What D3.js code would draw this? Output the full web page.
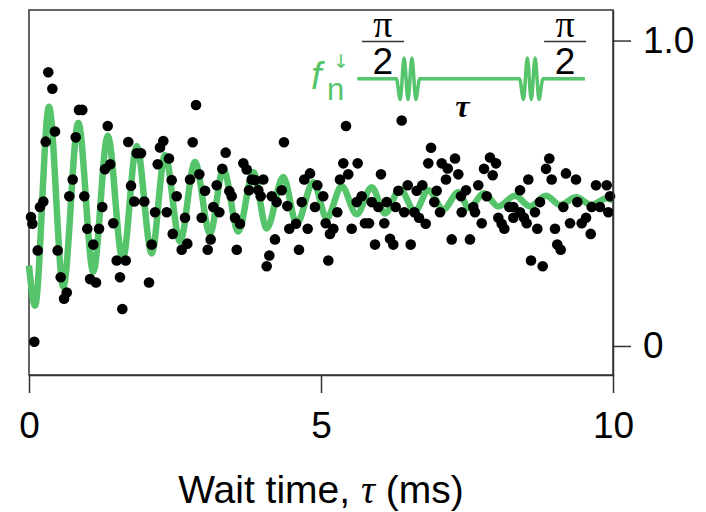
<!doctype html>
<html lang='en'>
<head>
<meta charset="utf-8">
<script src="https://d3js.org/d3.v7.min.js"></script>
<title>Ramsey fringe vs wait time</title>
<style>
  body { margin: 0; background: #fff; }
  svg { display: block; font-family: "Liberation Sans", Arial, sans-serif; }
  .axis path, .axis line { stroke: #333; stroke-width: 1.5; }
  .axis text { font-size: 37px; fill: #000; font-family: "Liberation Sans", Arial, sans-serif; }
  .frame { fill: none; stroke: #333; stroke-width: 1.5; }
  .dot { fill: #000; }
  .fit { fill: none; stroke: #55c46a; stroke-width: 6.5; stroke-linejoin: round; }
  .pulse { fill: none; stroke: #55c46a; stroke-width: 3.5; }
</style>
</head>
<body>
<div id='chart'></div>
<script>
// measured points: wait time (ms) and spin-down fraction
var waitTimes = [
  0.33, 0.40, 0.856, 0.913, 0.445, 0.286, 0.80, 1.348, 1.70, 1.844, 1.918, 2.30, 2.243, 2.397, 2.204, 1.301, 1.392,
  0.748, 0.69, 0.947, 1.747, 1.803, 1.974, 2.443, 2.529, 0.245, 0.188, 0.034, 0.057, 1.255, 2.158, 2.358, 1.443,
  0.998, 1.199, 1.101, 0.149, 0.491, 2.101, 2.461, 1.502, 1.656, 0.543, 1.045, 1.147, 1.558, 2.055, 0.646, 0.60,
  1.598, 0.091,
  2.860, 2.803, 4.366, 3.368, 3.670, 3.728, 3.310, 2.916, 2.757, 3.214, 3.014, 3.430, 3.471, 3.813, 3.870, 4.012,
  3.767, 3.926, 3.967, 4.156, 4.327, 4.241, 4.423, 4.670, 4.714, 4.812, 4.937, 4.897, 3.156, 3.259, 2.671, 2.957,
  3.527, 3.613, 3.111, 2.711, 2.615, 3.060, 3.557, 4.457, 4.572, 4.772, 4.212, 4.623, 4.115, 4.070,
  5.428, 6.382, 6.884, 5.382, 5.628, 5.467, 5.325, 6.027, 6.837, 7.067, 7.170, 7.295, 7.351, 7.140, 5.039, 6.485,
  6.735, 6.324, 6.639, 6.981, 5.697, 5.611, 5.868, 5.981, 6.125, 6.279, 6.940, 7.397, 6.426, 6.598, 5.279, 6.678,
  6.793, 7.038, 7.409, 5.080, 5.211, 5.154, 5.526, 5.753, 5.822, 6.084, 5.925, 6.182, 6.238, 6.536, 7.238, 5.125,
  7.894, 7.997, 8.909, 7.791, 7.940, 8.853, 9.195, 9.366, 8.550, 8.950, 7.693, 9.709, 9.892, 7.483, 8.408, 7.837,
  8.750, 9.389, 9.949, 7.608, 7.637, 8.224, 8.293, 8.408, 8.476, 8.664, 9.149, 9.635, 9.777, 9.920, 8.036, 8.094,
  8.139, 8.293, 7.752, 8.522, 8.704, 9.007, 9.264, 9.464, 9.538, 9.618, 7.551, 9.046, 9.104, 8.596, 8.796
];
var spinDown = [
  0.896, 0.842, 0.773, 0.773, 0.702, 0.669, 0.683, 0.720, 0.668, 0.631, 0.631, 0.671, 0.650, 0.614, 0.595, 0.579, 0.595,
  0.545, 0.490, 0.490, 0.525, 0.473, 0.473, 0.543, 0.490, 0.473, 0.455, 0.422, 0.400, 0.455, 0.438, 0.438, 0.402,
  0.384, 0.384, 0.332, 0.313, 0.313, 0.332, 0.367, 0.280, 0.280, 0.225, 0.219, 0.208, 0.225, 0.208, 0.175, 0.155,
  0.121, 0.014,
  0.789, 0.667, 0.667, 0.633, 0.598, 0.578, 0.580, 0.562, 0.545, 0.526, 0.508, 0.507, 0.490, 0.545, 0.543, 0.545,
  0.510, 0.510, 0.490, 0.490, 0.510, 0.471, 0.458, 0.471, 0.545, 0.565, 0.526, 0.455, 0.455, 0.438, 0.420, 0.420,
  0.420, 0.400, 0.349, 0.335, 0.315, 0.315, 0.315, 0.384, 0.400, 0.384, 0.349, 0.315, 0.296, 0.261,
  0.720, 0.738, 0.649, 0.598, 0.598, 0.562, 0.545, 0.562, 0.598, 0.598, 0.581, 0.614, 0.562, 0.545, 0.490, 0.526,
  0.526, 0.508, 0.508, 0.508, 0.490, 0.471, 0.471, 0.455, 0.471, 0.455, 0.471, 0.490, 0.438, 0.438, 0.438, 0.420,
  0.400, 0.438, 0.438, 0.402, 0.384, 0.367, 0.384, 0.402, 0.402, 0.402, 0.332, 0.351, 0.332, 0.332, 0.349, 0.280,
  0.617, 0.598, 0.614, 0.580, 0.559, 0.580, 0.565, 0.545, 0.545, 0.545, 0.526, 0.526, 0.526, 0.510, 0.510, 0.490,
  0.471, 0.471, 0.490, 0.455, 0.438, 0.455, 0.455, 0.438, 0.420, 0.438, 0.455, 0.455, 0.455, 0.438, 0.420, 0.400,
  0.384, 0.420, 0.402, 0.402, 0.384, 0.384, 0.402, 0.402, 0.420, 0.367, 0.349, 0.332, 0.315, 0.280, 0.261
];

// fitted curve, read at its turning points
var fitTimes = [
  0, 0.103, 0.342, 0.587, 0.844, 1.101, 1.348, 1.604, 1.844, 2.101, 2.329, 2.586, 2.842, 3.099, 3.327, 3.584,
  3.841, 4.070, 4.354, 4.584, 4.868, 5.098, 5.354, 5.611, 5.868, 6.096, 6.353, 6.610, 6.837, 7.094, 7.351,
  7.534, 7.791, 8.036, 8.322, 8.579, 8.853, 9.092, 9.366, 9.635, 9.892, 10
];
var fitValues = [
  0.263, 0.132, 0.783, 0.194, 0.730, 0.243, 0.688, 0.283, 0.655, 0.303, 0.625, 0.342, 0.602, 0.368, 0.579, 0.375,
  0.569, 0.385, 0.553, 0.401, 0.536, 0.418, 0.523, 0.431, 0.520, 0.434, 0.513, 0.441, 0.510, 0.447, 0.503,
  0.451, 0.500, 0.457, 0.492, 0.457, 0.492, 0.462, 0.487, 0.462, 0.484, 0.477
];

var xTicks = [0, 5, 10];
var yTicks = [0, 1];
var yTickLabels = ['0', '1.0'];

var width = 706, height = 512;
var plotLeft = 29, plotRight = 613, plotTop = 10, plotBottom = 375;

var svg = d3.select('#chart').append('svg')
  .attr('width', width)
  .attr('height', height);

var xScale = d3.scaleLinear().domain([0, 10]).range([plotLeft, plotRight]);
var yScale = d3.scaleLinear().domain([-0.095, 1.1]).range([plotBottom, plotTop]);

svg.append('rect')
  .attr('class', 'frame')
  .attr('x', plotLeft).attr('y', plotTop)
  .attr('width', plotRight - plotLeft).attr('height', plotBottom - plotTop);

// fit line
var fitData = fitTimes.map(function (t, i) { return [t, fitValues[i]]; });
var line = d3.line()
  .x(function (d) { return xScale(d[0]); })
  .y(function (d) { return yScale(d[1]); })
  .curve(d3.curveMonotoneX);

svg.append('path')
  .datum(fitData)
  .attr('class', 'fit')
  .attr('d', line);

// data points
var points = waitTimes.map(function (t, i) { return [t, spinDown[i]]; });
svg.selectAll('circle.dot')
  .data(points)
  .enter()
  .append('circle')
  .attr('class', 'dot')
  .attr('cx', function (d) { return xScale(d[0]); })
  .attr('cy', function (d) { return yScale(d[1]); })
  .attr('r', 5.3);

// axes
svg.append('g')
  .attr('class', 'axis')
  .attr('transform', 'translate(0,' + plotBottom + ')')
  .call(d3.axisBottom(xScale).tickValues(xTicks).tickSize(18).tickSizeOuter(0).tickPadding(19));

svg.append('g')
  .attr('class', 'axis')
  .attr('transform', 'translate(' + plotRight + ',0)')
  .call(d3.axisRight(yScale).tickValues(yTicks).tickSize(18).tickSizeOuter(0).tickPadding(12)
    .tickFormat(function (d, i) { return yTickLabels[i]; }));

// axis title
var title = svg.append('text')
  .attr('x', 321).attr('y', 503)
  .attr('text-anchor', 'middle')
  .style('font-size', '39px');
title.append('tspan').text('Wait time, ');
title.append('tspan').style('font-family', '"Liberation Serif", serif').style('font-style', 'italic').text('\u03c4');
title.append('tspan').text(' (ms)');

// pulse sequence sketch
var insetLevel = 0.875;
var insetStart = 5.62, insetEnd = 9.52;
var pulseCentres = [6.49, 8.60];
var pulseShape = [0, -1, 1, -1, 1, -1, 0];
var pulseHalfWidth = 0.2, pulseAmp = 0.068;

var seq = [[insetStart, insetLevel]];
pulseCentres.forEach(function (c) {
  pulseShape.forEach(function (s, i) {
    var t = c - pulseHalfWidth + i * (2 * pulseHalfWidth) / (pulseShape.length - 1);
    seq.push([t, insetLevel + s * pulseAmp]);
  });
});
seq.push([insetEnd, insetLevel]);

svg.append('path')
  .datum(seq)
  .attr('class', 'pulse')
  .attr('d', d3.line()
    .x(function (d) { return xScale(d[0]); })
    .y(function (d) { return yScale(d[1]); })
    .curve(d3.curveMonotoneX));

var fracX = [6.06, 9.18];
fracX.forEach(function (t) {
  var cx = xScale(t);
  svg.append('text').attr('x', cx).attr('y', 37).attr('text-anchor', 'middle')
    .style('font-family', '"Liberation Serif", serif').style('font-size', '38px').text('\u03c0');
  svg.append('line').attr('x1', cx - 21).attr('x2', cx + 21).attr('y1', 41.5).attr('y2', 41.5)
    .attr('stroke', '#333').attr('stroke-width', 1.5);
  svg.append('text').attr('x', cx).attr('y', 74).attr('text-anchor', 'middle')
    .style('font-size', '37px').text('2');
});

svg.append('text').attr('x', xScale(7.42)).attr('y', 117).attr('text-anchor', 'middle')
  .style('font-family', '"Liberation Serif", serif').style('font-style', 'italic').style('font-weight', 'bold')
  .style('font-size', '32px').text('\u03c4');

var green = '#55c46a';
svg.append('text').attr('x', 311).attr('y', 89).attr('fill', green)
  .style('font-style', 'italic').style('font-size', '38px').text('f');
svg.append('text').attr('x', 333).attr('y', 68).attr('fill', green)
  .style('font-family', '"DejaVu Sans", sans-serif').style('font-size', '19px').text('\u2193');
svg.append('text').attr('x', 327).attr('y', 100).attr('fill', green)
  .style('font-size', '31px').text('n');
</script>
</body>
</html>
